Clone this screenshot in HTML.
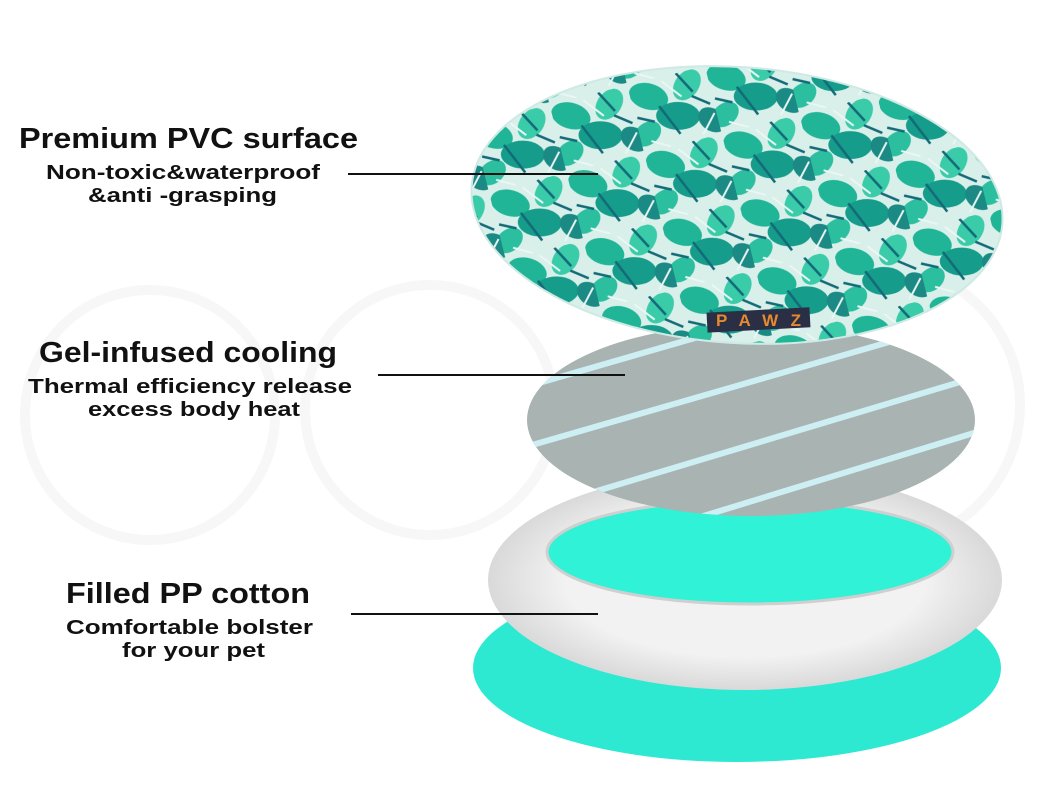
<!DOCTYPE html>
<html><head><meta charset="utf-8"><style>
html,body{margin:0;padding:0;background:#fff;}
svg{display:block;}
text{font-family:"Liberation Sans",sans-serif;fill:#111;}
</style></head><body>
<svg width="1050" height="800" viewBox="0 0 1050 800" xmlns="http://www.w3.org/2000/svg">
<defs>
<pattern id="leaf" width="80" height="70" patternUnits="userSpaceOnUse" patternTransform="rotate(-18)">
<rect width="80" height="70" fill="#d8efea"/>
<ellipse cx="18" cy="16" rx="20" ry="13" fill="#20b597" transform="rotate(30 18 16)"/>
<ellipse cx="58" cy="14" rx="17" ry="12" fill="#3acba9" transform="rotate(-40 58 14)"/>
<ellipse cx="42" cy="42" rx="22" ry="14" fill="#159c8a" transform="rotate(15 42 42)"/>
<ellipse cx="8" cy="52" rx="15" ry="11" fill="#2bbf9f" transform="rotate(-25 8 52)"/>
<ellipse cx="74" cy="54" rx="15" ry="11" fill="#1c8a84" transform="rotate(50 74 54)"/>
<path d="M26 28 L40 60 M60 26 L76 38 M2 34 L18 42 M50 0 L62 22" stroke="#136a78" stroke-width="2.5"/>
<path d="M34 4 L50 24 M62 66 L78 48 M10 60 L28 70" stroke="#eaf7f4" stroke-width="2"/>
</pattern>
<clipPath id="gclip"><ellipse cx="751" cy="420" rx="224" ry="96"/></clipPath>
<radialGradient id="ringg" cx="50%" cy="50%" r="50%">
<stop offset="70%" stop-color="#f2f2f2"/><stop offset="100%" stop-color="#d9d9d9"/>
</radialGradient>
</defs>
<!-- watermark -->
<g fill="none" stroke="#f7f7f7" stroke-width="10">
<circle cx="150" cy="415" r="125"/>
<circle cx="430" cy="410" r="125"/>
<circle cx="880" cy="405" r="140"/>
</g>
<!-- bottom teal -->
<ellipse cx="737" cy="668" rx="264" ry="94" fill="#2ee9d2"/>
<!-- ring -->
<ellipse cx="745" cy="580" rx="257" ry="110" fill="url(#ringg)"/>
<ellipse cx="750" cy="552" rx="203" ry="52" fill="#2ff2d6" stroke="#cfcfcf" stroke-width="3"/>
<!-- gray disc -->
<g clip-path="url(#gclip)">
<rect x="520" y="320" width="470" height="200" fill="#a9b3b2"/>
<g stroke="#cdeff3" stroke-width="6">
<line x1="480" y1="400" x2="1000" y2="250"/>
<line x1="480" y1="460" x2="1000" y2="310"/>
<line x1="500" y1="520" x2="1000" y2="370"/>
<line x1="560" y1="560" x2="1000" y2="425"/>
<line x1="640" y1="570" x2="1000" y2="470"/>
</g>
</g>
<!-- top leaf bed -->
<ellipse cx="737" cy="205" rx="266" ry="138" fill="url(#leaf)" transform="rotate(4 737 205)"/>
<ellipse cx="737" cy="205" rx="266" ry="138" fill="none" stroke="#cfe9e5" stroke-width="2" transform="rotate(4 737 205)"/>
<rect x="707" y="310" width="103" height="20" fill="#2a2f45" transform="rotate(-3 758 320)"/>
<text x="716" y="326" font-size="17" font-weight="bold" style="fill:#e58a2e" textLength="85">PAWZ</text>
<!-- connector lines -->
<g stroke="#111" stroke-width="2">
<line x1="348" y1="174" x2="598" y2="174"/>
<line x1="378" y1="375" x2="625" y2="375"/>
<line x1="351" y1="614" x2="598" y2="614"/>
</g>
<!-- labels -->
<text x="19" y="148" font-size="29" font-weight="bold" textLength="339" lengthAdjust="spacingAndGlyphs">Premium PVC surface</text>
<text x="46" y="179" font-size="20" font-weight="bold" textLength="274" lengthAdjust="spacingAndGlyphs">Non-toxic&amp;waterproof</text>
<text x="88" y="202" font-size="20" font-weight="bold" textLength="189" lengthAdjust="spacingAndGlyphs">&amp;anti -grasping</text>
<text x="39" y="362" font-size="29" font-weight="bold" textLength="298" lengthAdjust="spacingAndGlyphs">Gel-infused cooling</text>
<text x="28" y="393" font-size="20" font-weight="bold" textLength="324" lengthAdjust="spacingAndGlyphs">Thermal efficiency release</text>
<text x="88" y="416" font-size="20" font-weight="bold" textLength="212" lengthAdjust="spacingAndGlyphs">excess body heat</text>
<text x="66" y="603" font-size="29" font-weight="bold" textLength="244" lengthAdjust="spacingAndGlyphs">Filled PP cotton</text>
<text x="66" y="634" font-size="20" font-weight="bold" textLength="247" lengthAdjust="spacingAndGlyphs">Comfortable bolster</text>
<text x="122" y="657" font-size="20" font-weight="bold" textLength="143" lengthAdjust="spacingAndGlyphs">for your pet</text>
</svg>
</body></html>
